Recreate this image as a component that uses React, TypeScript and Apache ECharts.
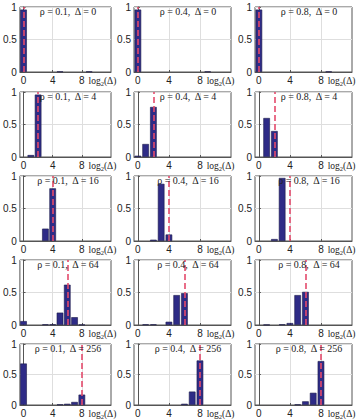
import React, { useEffect, useRef } from "react";
import * as echarts from "echarts";

// Histogram of estimated log2 shift for each (rho, Delta) setting.
const rhoValues = [0.1, 0.4, 0.8];
const deltaValues = [0, 4, 16, 64, 256];
// x position of the dashed reference line (log2 of Delta; Delta = 0 drawn at 0)
const markerPos = [0, 2, 4, 6, 8];
const binCenters = [0, 1, 2, 3, 4, 5, 6, 7, 8, 9, 10, 11, 12];
const xTicks = [0, 4, 8];

// frequencies per bin (bins 0..12), one array per panel: row = Delta, col = rho
const freqD0R1 = [0.96, 0, 0, 0, 0, 0.008, 0, 0, 0, 0.008, 0, 0, 0];
const freqD0R4 = [0.96, 0, 0, 0, 0, 0, 0, 0, 0, 0.008, 0, 0, 0];
const freqD0R8 = [0.96, 0, 0, 0, 0, 0, 0, 0, 0, 0.008, 0, 0, 0];
const freqD4R1 = [0, 0.03, 0.96, 0, 0, 0, 0, 0, 0, 0, 0, 0, 0];
const freqD4R4 = [0.02, 0.2, 0.77, 0, 0, 0, 0, 0, 0, 0, 0, 0, 0];
const freqD4R8 = [0, 0.6, 0.4, 0, 0, 0, 0, 0, 0, 0, 0, 0, 0];
const freqD16R1 = [0, 0, 0, 0.19, 0.81, 0, 0, 0, 0, 0, 0, 0, 0];
const freqD16R4 = [0, 0, 0.02, 0.88, 0.1, 0, 0, 0, 0, 0, 0, 0, 0];
const freqD16R8 = [0, 0, 0.03, 0.97, 0, 0, 0, 0, 0, 0, 0, 0, 0];
const freqD64R1 = [0.06, 0, 0, 0.01, 0.01, 0.19, 0.62, 0.12, 0.005, 0, 0, 0, 0];
const freqD64R4 = [0, 0.01, 0.01, 0, 0.05, 0.46, 0.49, 0, 0, 0, 0, 0, 0];
const freqD64R8 = [0, 0.005, 0, 0.01, 0.03, 0.46, 0.51, 0, 0, 0, 0, 0, 0];
const freqD256R1 = [0.68, 0, 0, 0, 0, 0.01, 0.02, 0.05, 0.17, 0, 0, 0, 0];
const freqD256R4 = [0, 0, 0, 0, 0, 0, 0.02, 0.22, 0.73, 0, 0, 0, 0];
const freqD256R8 = [0, 0, 0, 0, 0, 0.01, 0.06, 0.2, 0.72, 0, 0, 0, 0];

const panels = [
  [freqD0R1, freqD0R4, freqD0R8],
  [freqD4R1, freqD4R4, freqD4R8],
  [freqD16R1, freqD16R4, freqD16R8],
  [freqD64R1, freqD64R4, freqD64R8],
  [freqD256R1, freqD256R4, freqD256R8],
];

const colLeft = [14, 134, 255];
const rowTop = [7, 92, 176, 260, 344];
const panelW = 97;
const panelH = 65;

const BAR = "#2e2b86";
const BAR_EDGE = "#1c1b4a";
const MARK = "#e44a6c";
const GRIDLINE = "#dedede";
const FRAME = "#555555";
const SERIF = "Liberation Serif";

export default function App() {
  const ref = useRef<HTMLDivElement>(null);

  useEffect(() => {
    if (!ref.current) return;
    const chart = echarts.init(ref.current, undefined, { renderer: "svg" });

    const grids: any[] = [];
    const xAxes: any[] = [];
    const yAxes: any[] = [];
    const series: any[] = [];
    const titles: any[] = [];

    panels.forEach((row, r) => {
      row.forEach((freq, c) => {
        const idx = grids.length;
        grids.push({
          left: colLeft[c],
          top: rowTop[r],
          width: panelW,
          height: panelH,
          show: true,
          borderColor: FRAME,
          borderWidth: 1,
          backgroundColor: "#ffffff",
        });
        xAxes.push({
          type: "value",
          gridIndex: idx,
          min: -0.5,
          max: 12,
          axisLine: { show: true, lineStyle: { color: FRAME } },
          axisTick: {
            show: true,
            inside: true,
            length: 2,
            customValues: xTicks,
            lineStyle: { color: FRAME },
          },
          axisLabel: {
            customValues: xTicks,
            margin: 3,
            fontSize: 10,
            color: "#222",
            fontFamily: "Liberation Sans",
          },
          splitLine: { show: true, lineStyle: { color: GRIDLINE, width: 1 } },
          name: "{a|log}{s|2}{a|(\u0394)}",
          nameLocation: "end",
          nameGap: 0,
          nameTextStyle: {
            align: "right",
            verticalAlign: "top",
            padding: [3, 0, 0, 0],
            fontSize: 9.5,
            color: "#222",
            fontFamily: SERIF,
            rich: {
              a: { fontSize: 9.5, fontFamily: SERIF, color: "#222" },
              s: {
                fontSize: 6.5,
                fontFamily: SERIF,
                color: "#222",
                padding: [5, 0, 0, 0],
              },
            },
          },
        });
        yAxes.push({
          type: "value",
          gridIndex: idx,
          min: 0,
          max: 1,
          interval: 0.5,
          axisLine: { show: true, lineStyle: { color: FRAME } },
          axisTick: { show: true, inside: true, length: 2, lineStyle: { color: FRAME } },
          axisLabel: {
            margin: 3,
            fontSize: 10,
            color: "#222",
            fontFamily: "Liberation Sans",
          },
          splitLine: { show: true, lineStyle: { color: GRIDLINE, width: 1 } },
        });
        series.push({
          type: "bar",
          xAxisIndex: idx,
          yAxisIndex: idx,
          barWidth: 6.6,
          itemStyle: { color: BAR, borderColor: BAR_EDGE, borderWidth: 0.6 },
          data: binCenters
            .map((x, i) => [x, freq[i]])
            .filter((d) => d[1] > 0),
          markLine: {
            silent: true,
            symbol: "none",
            label: { show: false },
            lineStyle: { color: MARK, type: [6, 3], width: 1.6 },
            data: [
              [
                { coord: [markerPos[r], 0] },
                { coord: [markerPos[r], 1] },
              ],
            ],
          },
        });
        titles.push({
          text: `\u03c1 = ${rhoValues[c]},  \u0394 = ${deltaValues[r]}`,
          left: colLeft[c] + 54,
          top: rowTop[r] - 1,
          textAlign: "center",
          padding: 0,
          textStyle: {
            fontSize: 10,
            fontWeight: "normal",
            color: "#222",
            fontFamily: SERIF,
          },
        });
      });
    });

    chart.setOption({
      animation: false,
      backgroundColor: "#ffffff",
      title: titles,
      grid: grids,
      xAxis: xAxes,
      yAxis: yAxes,
      series,
    });

    return () => chart.dispose();
  }, []);

  return (
    <div
      ref={ref}
      style={{ position: "fixed", left: 0, top: 0, width: 357, height: 420 }}
    />
  );
}
